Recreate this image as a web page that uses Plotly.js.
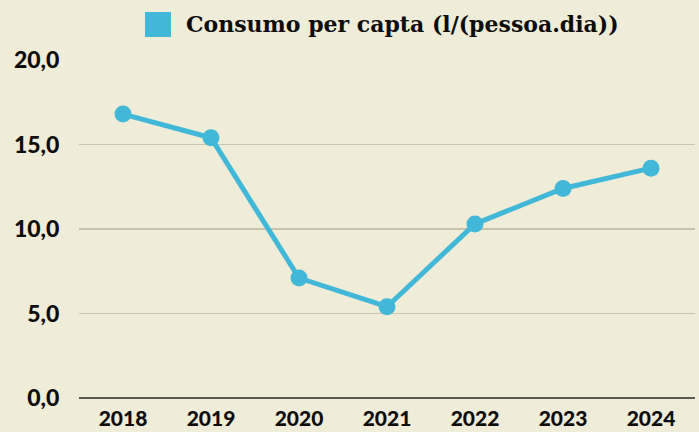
<!DOCTYPE html>
<html>
<head>
<meta charset="utf-8">
<script src="https://cdn.plot.ly/plotly-3.0.1.min.js"></script>
<style>html,body{margin:0;padding:0;background:#efecd8;}#chart{width:699px;height:432px;}</style>
</head>
<body>
<div id="chart"></div>
<script>
var years = ['2018', '2019', '2020', '2021', '2022', '2023', '2024'];
var consumo = [16.8, 15.4, 7.1, 5.4, 10.3, 12.4, 13.6];
var seriesName = 'Consumo per capta (l/(pessoa.dia))';
var yTicks = [0, 5, 10, 15, 20];
var yTickText = ['0,0', '5,0', '10,0', '15,0', '20,0'];

var lineColor = '#42b8d8';

var trace = {
  x: years,
  y: consumo,
  type: 'scatter',
  mode: 'lines+markers',
  name: seriesName,
  line: {color: lineColor, width: 5},
  marker: {color: lineColor, size: 17},
  showlegend: false,
  cliponaxis: false
};

var layout = {
  width: 699,
  height: 432,
  margin: {l: 79, r: 4, t: 60, b: 34},
  paper_bgcolor: '#efecd8',
  plot_bgcolor: '#efecd8',
  showlegend: false,
  xaxis: {
    type: 'category',
    range: [-0.5, 6.5],
    showgrid: false,
    zeroline: false,
    showline: false,
    ticks: 'outside',
    ticklen: 2,
    tickcolor: 'rgba(0,0,0,0)',
    tickfont: {family: 'Lato', size: 21, color: '#0d0d0d', weight: 900}
  },
  yaxis: {
    range: [0, 20],
    tickvals: yTicks,
    ticktext: yTickText,
    showgrid: true,
    gridcolor: '#c9c4ae',
    gridwidth: 1.5,
    zeroline: true,
    zerolinecolor: '#5a5a55',
    zerolinewidth: 1.5,
    showline: false,
    ticks: 'outside',
    ticklen: 14,
    tickcolor: 'rgba(0,0,0,0)',
    tickfont: {family: 'Lato', size: 23, color: '#0d0d0d', weight: 900}
  },
  shapes: [{
    type: 'rect', xref: 'paper', yref: 'paper',
    x0: (145 - 79) / 616, x1: (171 - 79) / 616,
    y0: (398 - 37) / 338, y1: (398 - 12) / 338,
    fillcolor: lineColor, line: {width: 0}
  }],
  annotations: [{
    xref: 'paper', yref: 'paper',
    x: (184 - 79) / 616, y: (398 - 24) / 338,
    xanchor: 'left', yanchor: 'middle',
    showarrow: false,
    text: '<b>' + seriesName + '</b>',
    font: {family: 'DejaVu Serif', size: 22, color: '#0d0d0d'}
  }]
};

Plotly.newPlot('chart', [trace], layout, {displayModeBar: false, staticPlot: true});
</script>
</body>
</html>
